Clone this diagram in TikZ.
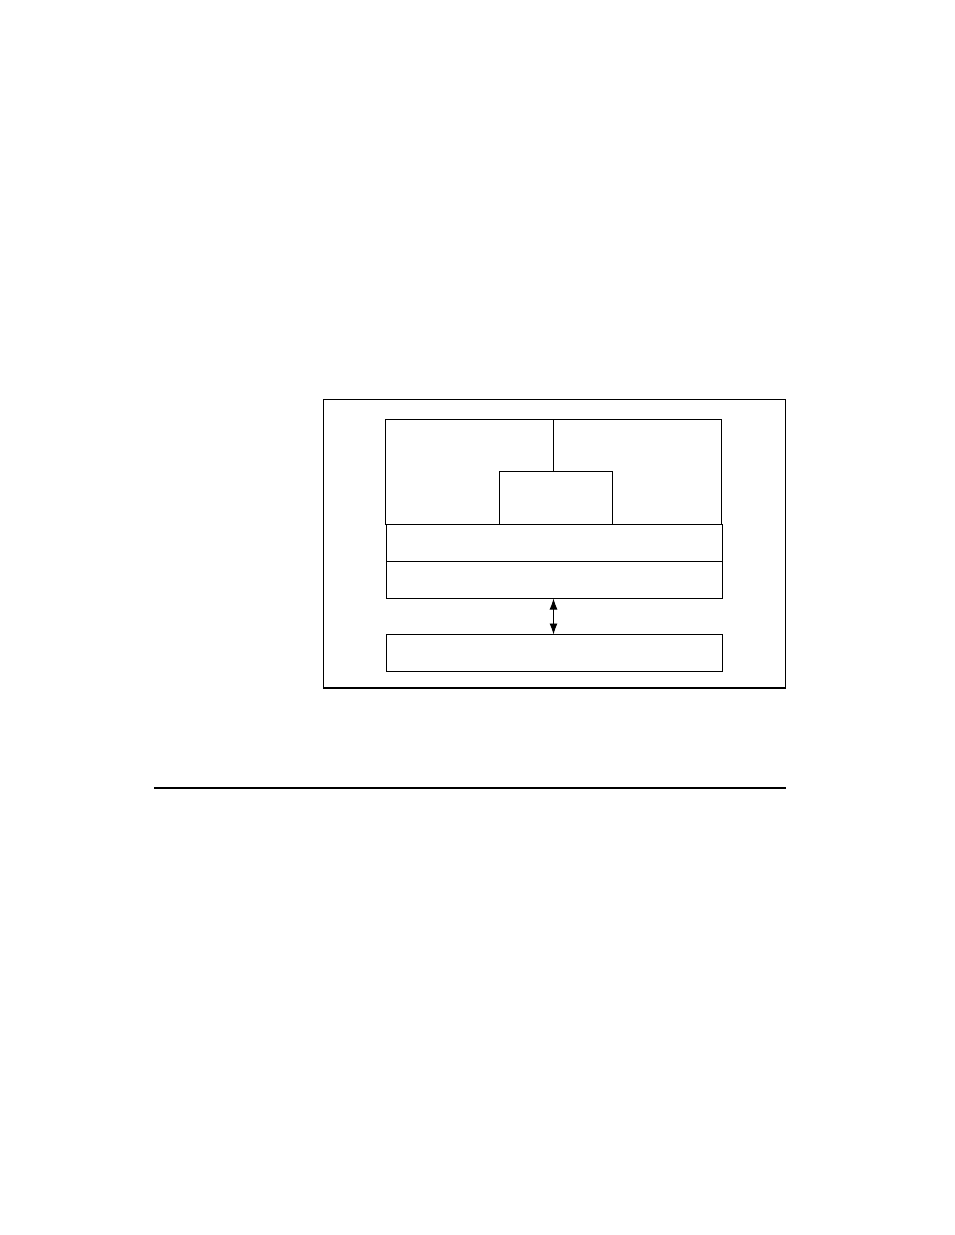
\documentclass[tikz,border=0pt]{standalone}
\usepackage{tikz}
\usetikzlibrary{positioning,arrows.meta}

\begin{document}
\begin{tikzpicture}[x=1pt,y=-1pt,
    blk/.style={draw, line width=0.9pt, inner sep=0pt, outer sep=0pt},
    bar/.style={blk, minimum width=336pt, minimum height=37pt},
    >={Latex[length=11pt,width=8pt]}]

    \useasboundingbox (0,0) rectangle (954,1235); % page size
    \node [blk, minimum width=462pt, minimum height=289pt, anchor=north west] (frame) at (323,399) {}; % outer frame
    \draw [line width=2pt] (frame.south west) -- (frame.south east); % heavy bottom edge of frame

    \node [blk, minimum width=168pt, minimum height=105pt, anchor=north west] (tl) at (385.5,419.5) {}; % top left box
    \node [blk, minimum width=168pt, minimum height=105pt, right=0pt of tl] (tr) {}; % top right box
    \node [blk, fill=white, minimum width=113pt, minimum height=53pt, anchor=south] (mid) at ([xshift=2pt]tl.south east) {}; % small box between the two
    \node [bar, anchor=north west] (barA) at ([xshift=0.5pt]tl.south west) {}; % first bar
    \node [bar, below=0pt of barA] (barB) {}; % second bar
    \node [bar, below=36pt of barB] (barC) {}; % bottom bar

    \coordinate (up) at (tl.south east |- barB.south); % arrow top end
    \coordinate (dn) at (tl.south east |- barC.north); % arrow bottom end
    \draw [line width=0.9pt, <->] (up) -- (dn);

    \coordinate (ruleL) at (154,788); % rule below the figure
    \coordinate (ruleR) at (786,788);
    \draw [line width=1.2pt] (ruleL) -- (ruleR);
\end{tikzpicture}
\end{document}
